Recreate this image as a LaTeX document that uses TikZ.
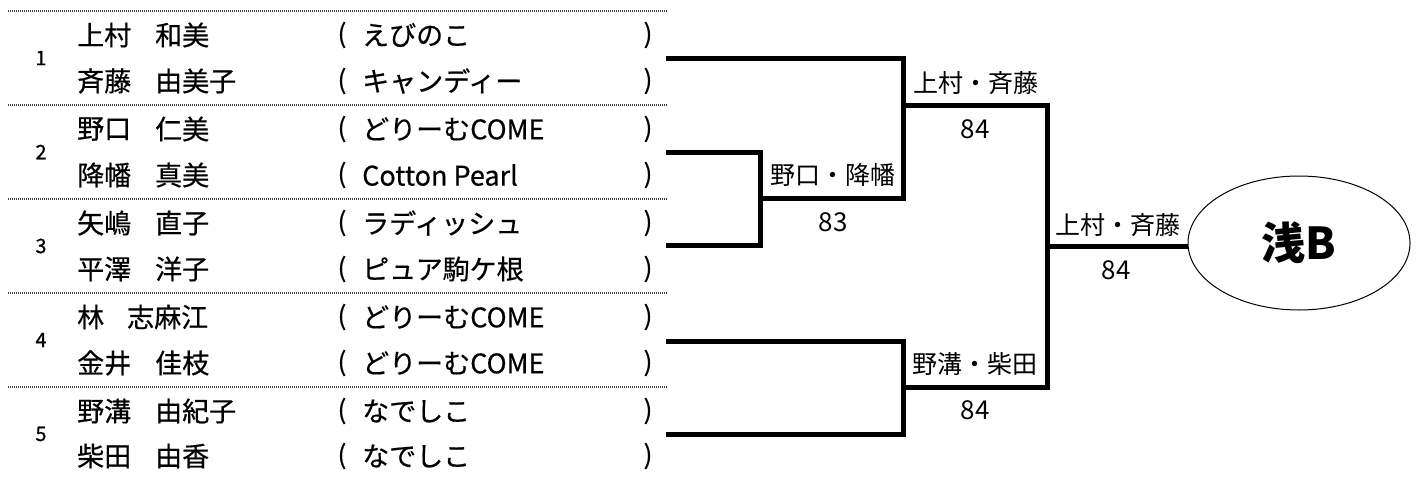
\documentclass[tikz,border=0pt]{standalone}
\usepackage{fontspec}
\usetikzlibrary{shapes.geometric}
\setmainfont{Noto Sans CJK JP}
\newfontfamily\nmfont{Noto Sans CJK JP}[FakeBold=0.5]
\begin{document}
\begin{tikzpicture}[x=1pt,y=-1pt,
  nm/.style={anchor=west,inner sep=0pt,font=\nmfont\fontsize{27}{27}\selectfont},
  par/.style={inner sep=0pt,font=\nmfont\fontsize{26}{26}\selectfont},
  num/.style={inner sep=0pt,font=\nmfont\fontsize{20}{20}\selectfont},
  lab/.style={inner sep=0pt,font=\fontsize{25}{25}\selectfont},
  score/.style={inner sep=0pt,font=\fontsize{26}{26}\selectfont},
  dotline/.style={line width=1.2pt,black!75,dash pattern=on 1pt off 1pt},
  br/.style={line width=5pt,line join=miter},
  final/.style={ellipse,draw,line width=1pt,minimum width=222pt,minimum height=134pt,inner sep=0pt,font=\bfseries\fontsize{44}{44}\selectfont}]
\useasboundingbox (0,0) rectangle (1420,477);
% dotted separators
\foreach \t in {11,105,199,293,387} \draw[dotline] (8,\t) -- (667,\t);
% group numbers
\node[num] (n1) at (41,58) {1};
\node[num] (n2) at (41,152) {2};
\node[num] (n3) at (41,246) {3};
\node[num] (n4) at (41,340) {4};
\node[num] (n5) at (41,434) {5};
% names
\node[nm] (a1s) at (77,35) {上村};   \node[nm] (a1g) at (155,35) {和美};
\node[nm] (b1s) at (77,81) {斉藤};   \node[nm] (b1g) at (155,81) {由美子};
\node[nm] (a2s) at (77,129) {野口};  \node[nm] (a2g) at (155,129) {仁美};
\node[nm] (b2s) at (77,175) {降幡};  \node[nm] (b2g) at (155,175) {真美};
\node[nm] (a3s) at (77,223) {矢嶋};  \node[nm] (a3g) at (155,223) {直子};
\node[nm] (b3s) at (77,269) {平澤};  \node[nm] (b3g) at (155,269) {洋子};
\node[nm] (a4s) at (77,317) {林};    \node[nm] (a4g) at (127,317) {志麻江};
\node[nm] (b4s) at (77,363) {金井};  \node[nm] (b4g) at (155,363) {佳枝};
\node[nm] (a5s) at (77,411) {野溝};  \node[nm] (a5g) at (155,411) {由紀子};
\node[nm] (b5s) at (77,456) {柴田};  \node[nm] (b5g) at (155,456) {由香};
% teams
\foreach \n/\y/\t in {a1/35/えびのこ, b1/81/キャンディー, a2/129/どりーむCOME, b2/175/Cotton Pearl,
  a3/223/ラディッシュ, b3/269/ピュア駒ケ根, a4/317/どりーむCOME, b4/363/どりーむCOME,
  a5/411/なでしこ, b5/456/なでしこ}{
  \node[par] (\n o) at (342,\y) {(};
  \node[nm] (\n t) at (362,\y) {\t};
  \node[par] (\n c) at (648,\y) {)};
}
% bracket coordinates
\coordinate (s1) at (666,58);
\coordinate (s2) at (666,152);
\coordinate (s3) at (666,245);
\coordinate (s4) at (666,341);
\coordinate (s5) at (666,434);
\coordinate (j1) at (903,198);
\coordinate (m23) at (760,198);
\coordinate (w1) at (903,105);
\coordinate (r1) at (1047,105);
\coordinate (r2) at (1047,387);
\coordinate (m45) at (903,387);
\coordinate (f) at (1047,246);
% final ellipse
\node[final] (E) at (1299,243) {浅B};
% bracket lines
\draw[br] (s1) -| (j1) -- (m23);
\draw[br] (s2) -| (m23) |- (s3);
\draw[br] (s4) -| (m45) |- (s5);
\draw[br] (w1) -- (r1) -- (r2) -- (m45);
\draw[br] (f) -- (f -| E.west);
% labels
\node[lab] (l1) at (976,83) {上村・斉藤};
\node[score] (p1) at (975,129) {84};
\node[lab] (l2) at (833,175) {野口・降幡};
\node[score] (p2) at (833,222) {83};
\node[lab] (l3) at (975,364) {野溝・柴田};
\node[score] (p3) at (975,410) {84};
\node[lab] (l4) at (1118,225) {上村・斉藤};
\node[score] (p4) at (1116,270) {84};
\end{tikzpicture}
\end{document}
